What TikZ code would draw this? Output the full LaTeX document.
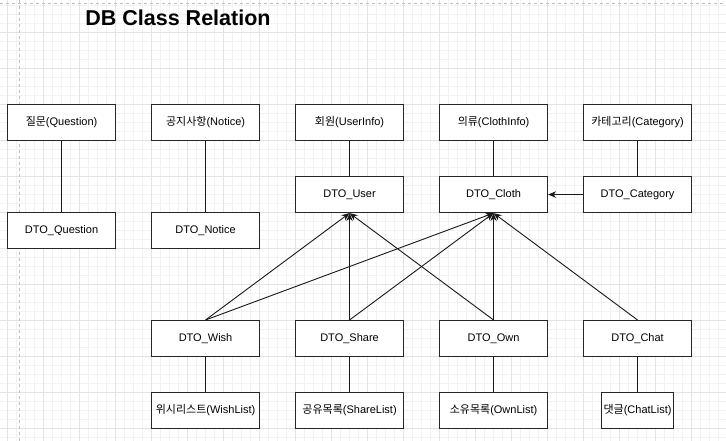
\documentclass[tikz,border=0pt]{standalone}
\usepackage{fontspec}
\setmainfont{Liberation Sans}
\newfontfamily\kr{Noto Sans CJK KR}
\usetikzlibrary{arrows.meta}
\begin{document}
\begin{tikzpicture}[x=1pt,y=-1pt,
  box/.style={draw=black!85, line width=1.1pt, fill=white, minimum width=108pt, minimum height=36pt,
    inner sep=0pt, font=\fontsize{11}{13}\selectfont, anchor=north west},
  link/.style={draw=black!90, line width=0.9pt},
  arr/.style={link, -{Stealth[length=8pt,width=6.5pt]}},
  minorgrid/.style={draw=black!5, line width=0.6pt},
  majorgrid/.style={draw=black!11, line width=0.7pt},
  pageline/.style={draw=black!25, line width=0.7pt, dash pattern=on 3pt off 3pt}]
\useasboundingbox (0,0) rectangle (726,441);
\fill[white] (0,0) rectangle (726,441);
\begin{scope}
\clip (0,0) rectangle (726,441);
\foreach \x in {-2,7,...,730} \draw[minorgrid] (\x,0) -- (\x,441);
\foreach \y in {-4,5,...,445} \draw[minorgrid] (0,\y) -- (726,\y);
\foreach \x in {7,43,...,730} \draw[majorgrid] (\x,0) -- (\x,441);
\foreach \y in {-4,32,...,445} \draw[majorgrid] (0,\y) -- (726,\y);
\draw[pageline] (19,0) -- (19,441);
\draw[pageline] (0,3) -- (726,3);
\end{scope}

\node[font=\bfseries\fontsize{21.5}{25}\selectfont] (title) at (178,18) {DB Class Relation};

\node[box] (q) at (7,104) {{\kr 질문}(Question)};
\node[box] (n) at (151,104) {{\kr 공지사항}(Notice)};
\node[box] (u) at (295,104) {{\kr 회원}(UserInfo)};
\node[box] (c) at (439,104) {{\kr 의류}(ClothInfo)};
\node[box] (k) at (583,104) {{\kr 카테고리}(Category)};

\node[box] (dq) at (7,212) {DTO\_Question};
\node[box] (dn) at (151,212) {DTO\_Notice};
\node[box] (du) at (295,176) {DTO\_User};
\node[box] (dc) at (439,176) {DTO\_Cloth};
\node[box] (dk) at (583,176) {DTO\_Category};

\node[box] (dw) at (151,320) {DTO\_Wish};
\node[box] (ds) at (295,320) {DTO\_Share};
\node[box] (dow) at (439,320) {DTO\_Own};
\node[box] (dch) at (583,320) {DTO\_Chat};

\node[box] (lw) at (151,392) {{\kr 위시리스트}(WishList)};
\node[box] (ls) at (295,392) {{\kr 공유목록}(ShareList)};
\node[box] (lo) at (439,392) {{\kr 소유목록}(OwnList)};
\node[box, minimum width=72pt] (lc) at (601,392) {{\kr 댓글}(ChatList)};

\draw[link] (q.south) -- (dq.north);
\draw[link] (n.south) -- (dn.north);
\draw[link] (u.south) -- (du.north);
\draw[link] (c.south) -- (dc.north);
\draw[link] (k.south) -- (dk.north);

\draw[arr] (dk.west) -- (dc.east);
\draw[arr] (dw.north) -- (du.south);
\draw[arr] (dw.north) -- (dc.south);
\draw[arr] (ds.north) -- (du.south);
\draw[arr] (ds.north) -- (dc.south);
\draw[arr] (dow.north) -- (du.south);
\draw[arr] (dow.north) -- (dc.south);
\draw[arr] (dch.north) -- (dc.south);

\draw[link] (dw.south) -- (lw.north);
\draw[link] (ds.south) -- (ls.north);
\draw[link] (dow.south) -- (lo.north);
\draw[link] (dch.south) -- (lc.north);
\end{tikzpicture}
\end{document}
